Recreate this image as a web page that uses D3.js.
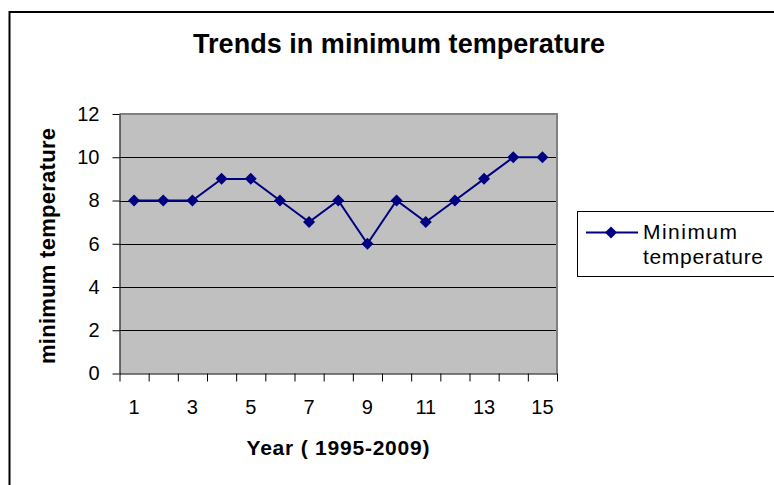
<!DOCTYPE html>
<html>
<head>
<meta charset="utf-8">
<script src="https://cdn.jsdelivr.net/npm/d3@7"></script>
<style>
  html, body { margin: 0; padding: 0; background: #fff; }
  svg { display: block; }
  text { font-family: "Liberation Sans", Arial, sans-serif; fill: #000; }
</style>
</head>
<body>
<svg id="chart" width="774" height="485"></svg>
<script>
const title = "Trends in minimum temperature";
const xTitle = "Year ( 1995-2009)";
const yTitle = "minimum temperature";
const seriesName = ["Minimum", "temperature"];
const categories = [1,2,3,4,5,6,7,8,9,10,11,12,13,14,15];
const values = [8,8,8,9,9,8,7,8,6,8,7,8,9,10,10];
const xTickLabels = [1,3,5,7,9,11,13,15];
const yTicks = [0,2,4,6,8,10,12];

const svg = d3.select("#chart");
const plot = {left: 119.5, right: 557, top: 114, bottom: 373.5};

// outer border (extends past right / bottom edges)
svg.append("rect").attr("x", 9.5).attr("y", 12).attr("width", 800).attr("height", 500)
  .attr("fill", "#fff").attr("stroke", "#000").attr("stroke-width", 2);

const x = d3.scaleBand().domain(categories).range([plot.left, plot.right]);
const xEdge = d3.scaleLinear().domain([0, categories.length]).range([plot.left, plot.right]);
const y = d3.scaleLinear().domain([0, 12]).range([plot.bottom, plot.top]);

// plot background
svg.append("rect").attr("x", plot.left).attr("y", plot.top)
  .attr("width", plot.right - plot.left).attr("height", plot.bottom - plot.top)
  .attr("fill", "#C0C0C0");

// gridlines
svg.append("g").selectAll("line").data(yTicks.filter(d => d > 0 && d < 12)).join("line")
  .attr("x1", plot.left).attr("x2", plot.right)
  .attr("y1", d => Math.round(y(d)) + 0.5).attr("y2", d => Math.round(y(d)) + 0.5)
  .attr("stroke", "#000").attr("stroke-width", 1);

// plot border top/right (gray)
svg.append("path")
  .attr("d", `M${plot.left},${plot.top} H${plot.right} V${plot.bottom}`)
  .attr("fill", "none").attr("stroke", "#808080").attr("stroke-width", 2);

// y axis
const yAxis = svg.append("g").attr("transform", `translate(${plot.left},0)`)
  .call(d3.axisLeft(y).tickValues(yTicks).tickSizeInner(7).tickSizeOuter(0).tickPadding(13));
yAxis.selectAll("text").style("font-size", "20px");
yAxis.selectAll("line, path").attr("stroke", "#000");

// x axis: boundary ticks
const xAxisTicks = svg.append("g").attr("transform", `translate(0,${plot.bottom})`)
  .call(d3.axisBottom(xEdge).tickValues(d3.range(0, categories.length + 1))
    .tickSizeInner(8).tickSizeOuter(0).tickFormat(""));
xAxisTicks.selectAll("line, path").attr("stroke", "#000");

// x axis labels
const xAxisLabels = svg.append("g").attr("transform", `translate(0,${plot.bottom})`)
  .call(d3.axisBottom(x).tickValues(xTickLabels).tickSize(0).tickPadding(26));
xAxisLabels.select(".domain").remove();
xAxisLabels.selectAll("text").style("font-size", "20px");

// line
const line = d3.line().x((d, i) => x(categories[i]) + x.bandwidth() / 2).y(d => y(d));
svg.append("path").datum(values).attr("d", line)
  .attr("fill", "none").attr("stroke", "#000080").attr("stroke-width", 2);

svg.append("g").selectAll("path").data(values).join("path")
  .attr("transform", (d, i) => `translate(${x(categories[i]) + x.bandwidth() / 2},${y(d)}) rotate(45)`)
  .attr("d", d3.symbol().type(d3.symbolSquare).size(72))
  .attr("fill", "#000080");

// titles
svg.append("text").attr("x", 399).attr("y", 53).attr("text-anchor", "middle")
  .style("font-size", "27px").style("font-weight", "bold")
  .attr("textLength", 412).attr("lengthAdjust", "spacing").text(title);

svg.append("text").attr("x", 338).attr("y", 455).attr("text-anchor", "middle")
  .style("font-size", "21px").style("font-weight", "bold")
  .attr("textLength", 183).attr("lengthAdjust", "spacing").text(xTitle);

svg.append("text").attr("transform", "translate(55,246) rotate(-90)").attr("text-anchor", "middle")
  .style("font-size", "22px").style("font-weight", "bold")
  .attr("textLength", 236).attr("lengthAdjust", "spacing").text(yTitle);

// legend
const lg = svg.append("g");
lg.append("rect").attr("x", 577.5).attr("y", 211.5).attr("width", 220).attr("height", 65)
  .attr("fill", "#fff").attr("stroke", "#000").attr("stroke-width", 1);
lg.append("line").attr("x1", 586).attr("x2", 638).attr("y1", 232.5).attr("y2", 232.5)
  .attr("stroke", "#000080").attr("stroke-width", 2);
lg.append("path").attr("transform", "translate(611,232.5) rotate(45)")
  .attr("d", d3.symbol().type(d3.symbolSquare).size(72)).attr("fill", "#000080");
lg.append("text").attr("x", 643).attr("y", 239).style("font-size", "21px")
  .attr("textLength", 94).attr("lengthAdjust", "spacing").text(seriesName[0]);
lg.append("text").attr("x", 643).attr("y", 264).style("font-size", "21px")
  .attr("textLength", 120).attr("lengthAdjust", "spacing").text(seriesName[1]);
</script>
</body>
</html>
